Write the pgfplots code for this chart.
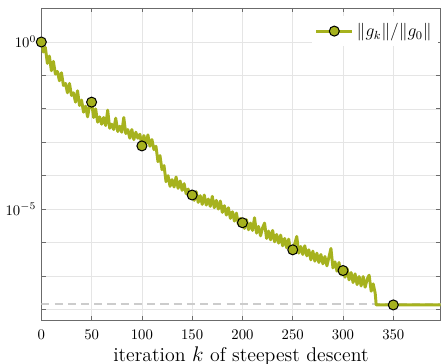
\documentclass[border=0pt]{standalone}
\usepackage{pgfplots}
\pgfplotsset{compat=1.18}
\definecolor{olv}{RGB}{166,178,30}
\definecolor{axgray}{gray}{0.42}
\begin{document}
\begin{tikzpicture}
\begin{axis}[
  scale only axis, width=271.5pt, height=212.2pt,
  xmin=0, xmax=397, ymin=-8.32, ymax=1.02,
  xtick={0,50,...,350},
  ytick={-8,-7,...,1},
  yticklabels={{},{},{},$10^{-5}$,{},{},{},{},$10^{0}$,{}},
  grid=major, major grid style={gray!20, line width=0.4pt},
  axis line style={axgray, line width=0.5pt},
  tick style={axgray, line width=0.5pt}, tick align=inside, major tick length=3pt,
  xtick pos=both, ytick pos=both, xticklabel pos=lower, yticklabel pos=left,
  xticklabel style={yshift=-3.5pt},
  xlabel={iteration $k$ of steepest descent},
  xlabel style={font=\fontsize{13.5}{16}\selectfont, at={(axis description cs:0.5,0)}, anchor=base, yshift=-28.4pt},
  legend style={at={(0.9934,0.975)}, anchor=north east, draw=none, fill=white,
    font=\fontsize{11.5}{13}\selectfont, inner xsep=2pt, inner ysep=3pt},
  legend image code/.code={\draw[olv, line width=2pt] (0pt,0pt) -- (24.5pt,0pt);
    \draw[black, line width=0.7pt, fill=olv] (12.25pt,0pt) circle (3.4pt);},
]
\addplot[gray!40, line width=1.4pt, dash pattern=on 5.5pt off 3.5pt, forget plot] coordinates {(0,-7.83) (397,-7.83)};
\addplot[olv, line width=2pt, line join=round, mark=*, mark indices={1,26,51,76,101,126,151,169},
  mark options={fill=olv, draw=black, line width=0.7pt, solid}, mark size=3.4pt] coordinates {
(0,0.00) (2,-0.30) (4,-0.16) (6,-0.64) (8,-0.42) (10,-0.86) (12,-0.58) (14,-0.96) (16,-0.88) (18,-1.16)
(20,-0.92) (22,-1.30) (24,-1.24) (26,-1.52) (28,-1.24) (30,-1.60) (32,-1.52) (34,-1.80) (36,-1.46) (38,-1.90)
(40,-1.74) (42,-2.10) (44,-1.92) (46,-2.24) (48,-1.90) (50,-1.80) (52,-2.26) (54,-2.00) (56,-2.40) (58,-2.24)
(60,-2.46) (62,-2.26) (64,-2.50) (66,-2.04) (68,-2.58) (70,-2.46) (72,-2.62) (74,-2.28) (76,-2.68) (78,-2.52)
(80,-2.70) (82,-2.26) (84,-2.74) (86,-2.62) (88,-2.88) (90,-2.62) (92,-2.92) (94,-2.70) (96,-2.88) (98,-2.76)
(100,-3.11) (102,-2.80) (104,-3.06) (106,-2.78) (108,-3.12) (110,-2.92) (112,-3.22) (114,-3.12) (116,-3.58) (118,-3.40)
(120,-3.82) (122,-3.70) (124,-4.18) (126,-4.00) (128,-4.32) (130,-4.12) (132,-4.34) (134,-4.04) (136,-4.38) (138,-4.16)
(140,-4.44) (142,-4.24) (144,-4.54) (146,-4.40) (148,-4.62) (150,-4.58) (152,-4.74) (154,-4.48) (156,-4.80) (158,-4.60)
(160,-4.86) (162,-4.58) (164,-4.88) (166,-4.70) (168,-4.92) (170,-4.62) (172,-4.96) (174,-4.74) (176,-5.00) (178,-4.76)
(180,-5.10) (182,-4.90) (184,-5.18) (186,-4.96) (188,-5.28) (190,-5.08) (192,-5.36) (194,-5.12) (196,-5.46) (198,-5.28)
(200,-5.41) (202,-5.58) (204,-5.32) (206,-5.62) (208,-5.42) (210,-5.64) (212,-5.26) (214,-5.72) (216,-5.52) (218,-5.80)
(220,-5.56) (222,-5.42) (224,-5.88) (226,-5.66) (228,-5.92) (230,-5.64) (232,-5.98) (234,-5.76) (236,-6.02) (238,-5.78)
(240,-6.10) (242,-5.88) (244,-6.16) (246,-5.90) (248,-6.28) (250,-6.22) (252,-6.04) (254,-5.82) (256,-6.32) (258,-6.12)
(260,-6.36) (262,-6.10) (264,-6.40) (266,-6.22) (268,-6.52) (270,-6.26) (272,-6.56) (274,-6.32) (276,-6.60) (278,-6.36)
(280,-6.64) (282,-6.42) (284,-6.70) (286,-6.44) (288,-6.18) (290,-6.76) (292,-6.58) (294,-6.86) (296,-6.60) (298,-6.96)
(300,-6.84) (302,-7.04) (304,-6.78) (306,-7.12) (308,-6.90) (310,-7.20) (312,-6.94) (314,-7.26) (316,-7.02) (318,-7.30)
(320,-7.02) (322,-7.34) (324,-7.10) (326,-6.98) (328,-7.46) (330,-7.24) (332,-7.52)
(333,-7.87) (350,-7.87) (397,-7.87)
};
\addlegendentry{$\|g_k\|/\|g_0\|$\hspace{4pt}}
\end{axis}
\pgfresetboundingbox
\path ([xshift=-28.1pt,yshift=-29.9pt]current axis.south west) rectangle ([xshift=0.3pt,yshift=5.4pt]current axis.north east);
\end{tikzpicture}
\end{document}
